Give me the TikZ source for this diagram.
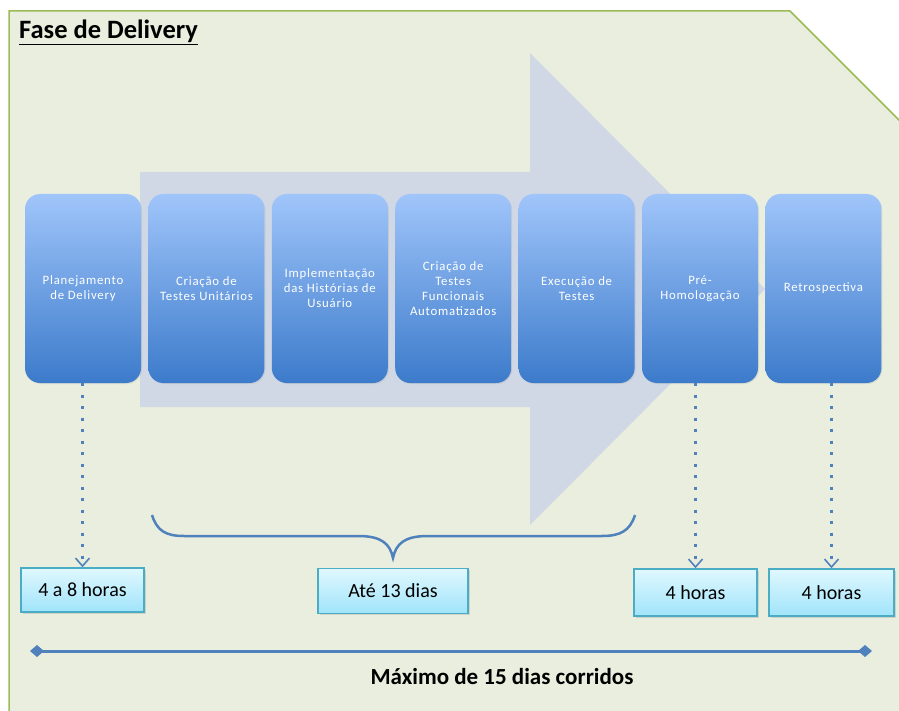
\documentclass[tikz,border=0pt]{standalone}
\usepackage{fontspec}
\setmainfont{Carlito}
\newfontfamily\phasefont[LetterSpace=6]{Carlito}
\usepackage{tikz}
\usetikzlibrary{arrows.meta,
                calc,
                positioning,
                shadows}

\definecolor{panelfill}{RGB}{234,238,222}
\definecolor{panelline}{RGB}{155,187,89}
\definecolor{arrowfill}{RGB}{208,215,229}
\definecolor{phasetop}{RGB}{160,197,250}
\definecolor{phasebot}{RGB}{60,123,203}
\definecolor{durtop}{RGB}{224,248,254}
\definecolor{durbot}{RGB}{160,228,250}
\definecolor{durline}{RGB}{75,172,198}
\definecolor{lineblue}{RGB}{79,129,189}

\tikzset{
  phase/.style={rounded corners=15pt, minimum width=116pt, minimum height=189pt,
                top color=phasetop, bottom color=phasebot, text=white,
                align=center, inner sep=2pt,
                drop shadow={opacity=0.15, shadow xshift=1pt, shadow yshift=-1pt},
                font=\phasefont\fontsize{12.8}{15}\selectfont},
  duration/.style={draw=durline, line width=1.5pt, top color=durtop, bottom color=durbot,
                   minimum width=123pt, minimum height=45pt,
                   drop shadow={opacity=0.25, shadow xshift=1.5pt, shadow yshift=-1.5pt},
                   font=\fontsize{20}{24}\selectfont},
  dotlink/.style={lineblue, line width=3pt, dash pattern=on 3pt off 8.5pt,
                  -{Straight Barb[length=8pt, width=14pt, line width=1.6pt]}},
  spanline/.style={lineblue, line width=2.5pt}
}

\begin{document}
\begin{tikzpicture}[x=1pt, y=-1pt]
\useasboundingbox (0,0) rectangle (899,711);
\clip (0,0) rectangle (899,711);

% panel and big arrow
\fill[panelfill] (9,11) -- (790,11) -- (899,120) -- (899,711) -- (9,711) -- cycle;
\draw[panelline, line width=1.5pt] (9,712) -- (9,11) -- (790,11) -- (900,121);
\fill[arrowfill] (140,172) -- (530,172) -- (530,53) -- (765,289)
                 -- (530,525) -- (530,407) -- (140,407) -- cycle;

\node[anchor=base west, inner sep=0pt, font=\bfseries\fontsize{26.5}{31}\selectfont]
  (title) at (19,39) {\underline{Fase de Delivery}};

% phases
\node[phase] (plan) at (83,288.5) {Planejamento\\de Delivery};
\node[phase, right=7pt of plan] (unit) {Criação de\\Testes Unitários};
\node[phase, right=7pt of unit] (impl) {Implementação\\das Histórias de\\Usuário};
\node[phase, right=7pt of impl] (func) {Criação de\\Testes\\Funcionais\\Automatizados};
\node[phase, right=7pt of func] (exec) {Execução de\\Testes};
\node[phase, right=7pt of exec] (homol) {Pré-\\Homologação};
\node[phase, right=7pt of homol] (retro) {Retrospectiva};

% durations
\node[duration, minimum height=44pt] (t1) at (82.5,590) {4 a 8 horas};
\node[duration, minimum width=150pt] (t2) at (393,591) {Até 13 dias};
\node[duration, minimum height=47pt] (t3) at (695.5,592.5) {4 horas};
\node[duration, minimum width=125pt, minimum height=47pt] (t4) at (831.5,592.5) {4 horas};

\draw[dotlink] (t1.north |- plan.south) -- (t1.north);
\draw[dotlink] (t3.north |- homol.south) -- (t3.north);
\draw[dotlink] (t4.north |- retro.south) -- (t4.north);

% brace over the development steps
\draw[spanline] (152,515) .. controls (157,531) and (166,536) .. (184,536)
  -- (358,536) .. controls (382,536) and (390,544) .. (393,558)
  .. controls (396,544) and (404,536) .. (428,536)
  -- (602,536) .. controls (620,536) and (630,531) .. (635,515);

% total time line
\coordinate (start) at (30,651);
\coordinate (end) at (872,651);
\draw[lineblue, line width=3pt,
  {Diamond[length=14pt, width=12pt]}-{Diamond[length=14pt, width=12pt]}] (start) -- (end);
\node[font=\bfseries\fontsize{23}{28}\selectfont] (total) at (502,677) {Máximo de 15 dias corridos};
\end{tikzpicture}
\end{document}
